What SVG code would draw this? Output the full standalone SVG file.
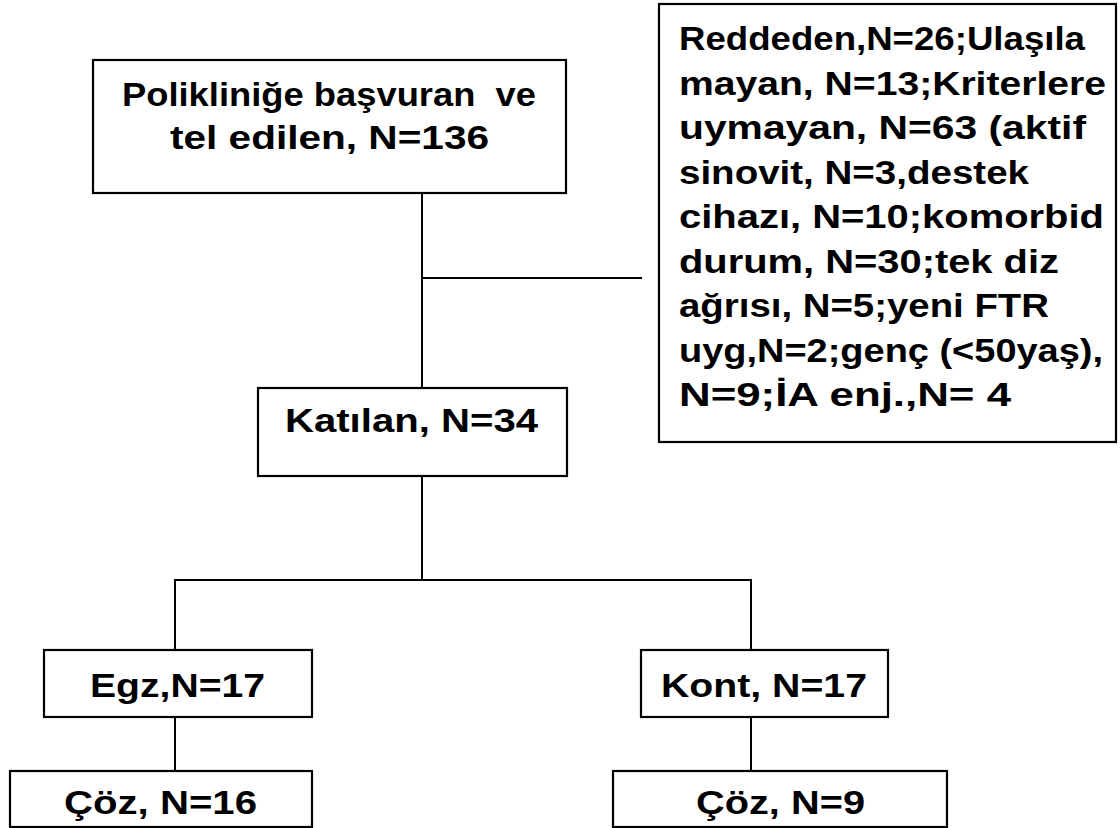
<svg xmlns="http://www.w3.org/2000/svg" width="1120" height="828" viewBox="0 0 1120 828">
<style>
.box{fill:#fff;stroke:#000;stroke-width:2.2}
.ln{stroke:#000;stroke-width:2;fill:none}
.t{font-family:"Liberation Sans",Arial,sans-serif;font-weight:bold;font-size:34px;fill:#000}
</style>
<rect width="1120" height="828" fill="#fff"/>
<g id="connectors">
<line class="ln" x1="422" y1="193" x2="422" y2="388"/>
<line class="ln" x1="422" y1="278" x2="642" y2="278"/>
<line class="ln" x1="422" y1="476" x2="422" y2="580"/>
<line class="ln" x1="174" y1="580" x2="752" y2="580"/>
<line class="ln" x1="175" y1="579" x2="175" y2="650"/>
<line class="ln" x1="751" y1="579" x2="751" y2="650"/>
<line class="ln" x1="175" y1="717" x2="175" y2="771"/>
<line class="ln" x1="751" y1="717" x2="751" y2="771"/>
</g>
<g id="node-basvuran">
<rect class="box" x="93" y="60" width="473" height="133"/>
<text class="t" x="122" y="106" textLength="414" lengthAdjust="spacingAndGlyphs" xml:space="preserve">Polikliniğe başvuran  ve</text>
<text class="t" x="170" y="149" textLength="319" lengthAdjust="spacingAndGlyphs">tel edilen, N=136</text>
</g>
<g id="node-excluded">
<rect class="box" x="659" y="4" width="457" height="438"/>
<text class="t" x="679" y="50" textLength="406" lengthAdjust="spacingAndGlyphs">Reddeden,N=26;Ulaşıla</text>
<text class="t" x="679" y="94.5" textLength="427" lengthAdjust="spacingAndGlyphs">mayan, N=13;Kriterlere</text>
<text class="t" x="679" y="139" textLength="407" lengthAdjust="spacingAndGlyphs">uymayan, N=63 (aktif</text>
<text class="t" x="679" y="183.5" textLength="350" lengthAdjust="spacingAndGlyphs">sinovit, N=3,destek</text>
<text class="t" x="679" y="228" textLength="425" lengthAdjust="spacingAndGlyphs">cihazı, N=10;komorbid</text>
<text class="t" x="679" y="272.5" textLength="380" lengthAdjust="spacingAndGlyphs">durum, N=30;tek diz</text>
<text class="t" x="679" y="317" textLength="370" lengthAdjust="spacingAndGlyphs">ağrısı, N=5;yeni FTR</text>
<text class="t" x="679" y="361.5" textLength="424" lengthAdjust="spacingAndGlyphs">uyg,N=2;genç (&lt;50yaş),</text>
<text class="t" x="679" y="406" textLength="332" lengthAdjust="spacingAndGlyphs">N=9;İA enj.,N= 4</text>
</g>
<g id="node-katilan">
<rect class="box" x="258" y="388" width="309" height="88"/>
<text class="t" x="285" y="432" textLength="253" lengthAdjust="spacingAndGlyphs">Katılan, N=34</text>
</g>
<g id="node-egz">
<rect class="box" x="44" y="650" width="268" height="67"/>
<text class="t" x="90" y="697" textLength="175" lengthAdjust="spacingAndGlyphs">Egz,N=17</text>
</g>
<g id="node-kont">
<rect class="box" x="641" y="650" width="247" height="67"/>
<text class="t" x="661" y="697" textLength="206" lengthAdjust="spacingAndGlyphs">Kont, N=17</text>
</g>
<g id="node-coz16">
<rect class="box" x="10" y="771" width="302" height="56"/>
<text class="t" x="64" y="814" textLength="193" lengthAdjust="spacingAndGlyphs">Çöz, N=16</text>
</g>
<g id="node-coz9">
<rect class="box" x="613" y="771" width="334" height="56"/>
<text class="t" x="696" y="814" textLength="169" lengthAdjust="spacingAndGlyphs">Çöz, N=9</text>
</g>
</svg>
